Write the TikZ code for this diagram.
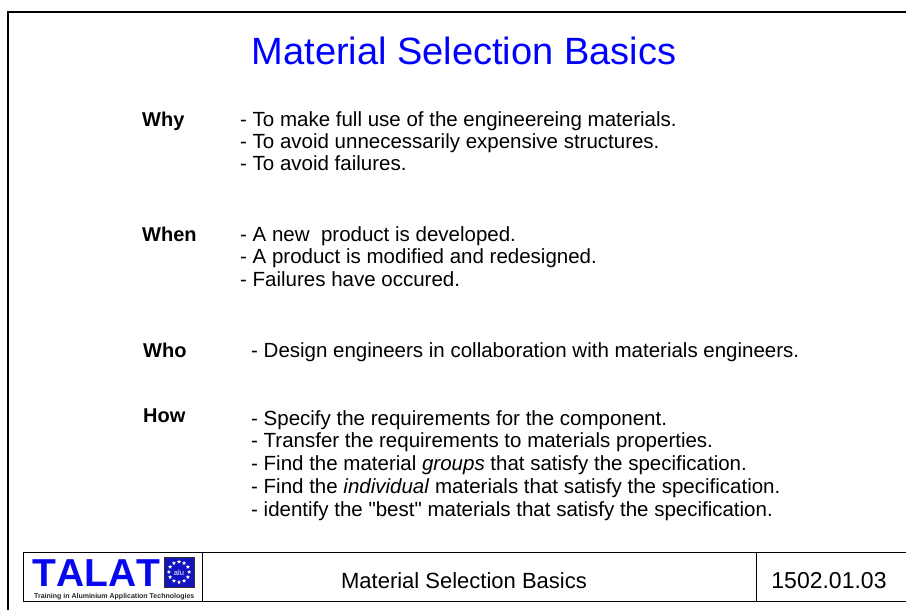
\documentclass[tikz,border=0pt]{standalone}
\usepackage{fontspec}
\setmainfont{Liberation Sans}[Ligatures=TeXOff]
\usetikzlibrary{shapes.geometric}
\definecolor{titleblue}{RGB}{0,0,255}
\definecolor{logoblue}{RGB}{8,8,240}
\definecolor{flagblue}{RGB}{20,20,190}
\begin{document}
\begin{tikzpicture}[x=1pt,y=-1pt,
  lbl/.style={anchor=base west, inner sep=0pt, font=\bfseries\fontsize{20}{24}\selectfont},
  item/.style={anchor=base west, inner sep=0pt, font=\fontsize{20.5}{24}\selectfont},
  frameline/.style={line width=2pt},
  boxline/.style={line width=1.2pt},
  eustar/.style={star, star points=5, star point ratio=2.3, fill=white, inner sep=0pt, minimum size=4.2pt},
]
\useasboundingbox (0,0) rectangle (906,610);
\fill[white] (0,0) rectangle (906,610);
% outer frame
\draw[frameline] (8.3,610) -- (8.3,12) -- (906,12);
% title
\node[anchor=base, inner sep=0pt, font=\fontsize{38}{44}\selectfont, text=titleblue] (title) at (464,65) {Material Selection Basics};
% Why
\node[lbl] (why) at (142,126) {Why};
\node[item] (why1) at (240,126) {- To make full use of the engineereing materials.};
\node[item] (why2) at (240,148.5) {- To avoid unnecessarily expensive structures.};
\node[item] (why3) at (240,171) {- To avoid failures.};
% When
\node[lbl] (when) at (142,241) {When};
\node[item] (when1) at (240,241) {- A new\ \ product is developed.};
\node[item] (when2) at (240,263.5) {- A product is modified and redesigned.};
\node[item] (when3) at (240,286) {- Failures have occured.};
% Who
\node[lbl] (who) at (143,357) {Who};
\node[item] (who1) at (251,357) {- Design engineers in collaboration with materials engineers.};
% How
\node[lbl] (how) at (143,422) {How};
\node[item] (how1) at (251,425) {- Specify the requirements for the component.};
\node[item] (how2) at (251,447.75) {- Transfer the requirements to materials properties.};
\node[item] (how3) at (251,470.5) {- Find the material \textit{groups} that satisfy the specification.};
\node[item] (how4) at (251,493.25) {- Find the \textit{individual} materials that satisfy the specification.};
\node[item] (how5) at (251,516) {- identify the "best" materials that satisfy the specification.};
% footer box
\draw[boxline] (906,552.5) -- (23.3,552.5) -- (23.3,601.5) -- (906,601.5);
\draw[boxline] (202.7,552.5) -- (202.7,601.5);
\draw[boxline] (756.7,552.5) -- (756.7,601.5);
\node[anchor=base, inner sep=0pt, font=\fontsize{22}{26}\selectfont] (ftitle) at (464,588) {Material Selection Basics};
\node[anchor=base, inner sep=0pt, font=\fontsize{23}{26}\selectfont] (fnum) at (829,588) {1502.01.03};
% logo
\node[anchor=base west, inner sep=0pt, font=\bfseries\fontsize{39}{44}\selectfont\addfontfeature{Kerning=Off}, text=logoblue] (talat) at (32,586) {TALAT};
\filldraw[fill=flagblue, draw=black!80, line width=0.6pt] (164,557) rectangle (194,587);
\foreach \a in {0,30,...,330}
  \node[eustar, name=star\a] at ([shift={(\a:10.2)}]179,572) {};
\node[inner sep=0pt, text=white, font=\fontsize{7.5}{8}\selectfont] (alu) at (179,572.5) {alu};
\node[anchor=base west, inner sep=0pt, font=\bfseries\fontsize{7}{8}\selectfont, text=black!85] (tag) at (34,598) {Training in Aluminium Application Technologies};
\end{tikzpicture}
\end{document}
